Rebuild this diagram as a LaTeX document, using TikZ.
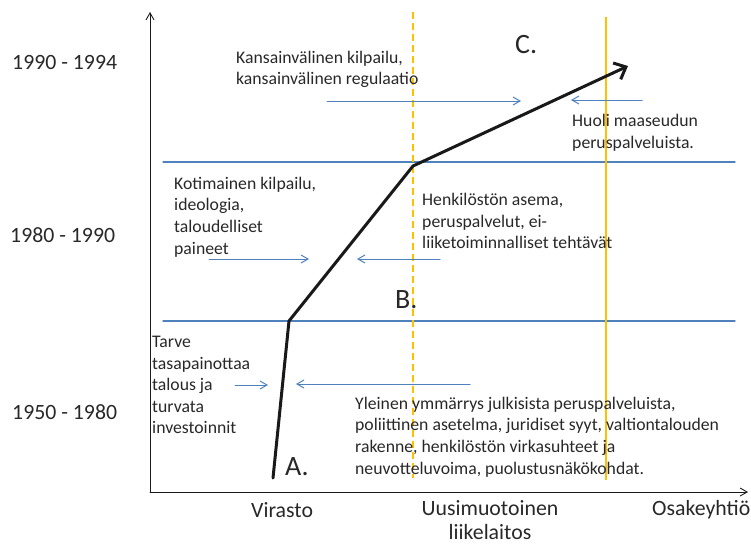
\documentclass[tikz,border=0pt]{standalone}
\usepackage{fontspec}
\setmainfont{Carlito}
\usetikzlibrary{arrows.meta}
\definecolor{sininen}{RGB}{79,129,189}
\definecolor{oranssi}{RGB}{255,192,0}
\definecolor{teksti}{RGB}{40,40,40}

\begin{document}
\begin{tikzpicture}[line cap=round,line join=round,>={Straight Barb[length=7pt,width=8pt]},x=1pt,y=-1pt,
	every node/.style={inner sep=0pt,text=teksti},
	selite/.style={anchor=west,align=left,font=\fontsize{17.7}{21.6}\selectfont},
	akseli/.style={anchor=west,font=\fontsize{21.8}{23.5}\selectfont},
	kirjain/.style={anchor=base west,font=\fontsize{28}{34}\selectfont},
	nuoli/.style={->,line width=1pt,color=sininen}]
				\useasboundingbox (0,0) rectangle (751,544);
				% akselit
				\coordinate (O) at (150,492);
				\coordinate (Ykarki) at (150,12);
				\coordinate (Xkarki) at (748,492);
				\draw [->,line width=0.9pt,color=black!90] (O) -- (Ykarki);
				\draw [->,line width=0.9pt,color=black!90] (O) -- (Xkarki);
				% vaakaviivat
				\coordinate (V1a) at (163,162);
				\coordinate (V1b) at (735,162);
				\coordinate (V2a) at (163,321);
				\coordinate (V2b) at (735,321);
				\draw [line width=1.3pt,color=sininen] (V1a) -- (V1b);
				\draw [line width=1.3pt,color=sininen] (V2a) -- (V2b);
				% pystyviivat
				\coordinate (P1a) at (413,12);
				\coordinate (P1b) at (413,478);
				\coordinate (P2a) at (606,17);
				\coordinate (P2b) at (606,480);
				\draw [line width=2pt,color=oranssi,line cap=butt,dash pattern=on 7pt off 4pt] (P1a) -- (P1b);
				\draw [line width=2pt,color=oranssi,line cap=butt] (P2a) -- (P2b);
				% kehityspolku
				\coordinate (A) at (273,478);
				\coordinate (AB) at (289,321);
				\coordinate (BC) at (413,166);
				\coordinate (C) at (628,66);
				\draw [line width=3pt,color=black!90,-{Straight Barb[length=10pt,width=18pt]}] (A) -- (AB) -- (BC) -- (C);
				% paineet
				\coordinate (n1a) at (327,101);
				\coordinate (n1b) at (521,101);
				\coordinate (n2a) at (642,100);
				\coordinate (n2b) at (571,100);
				\coordinate (n3a) at (209,259);
				\coordinate (n3b) at (309,259);
				\coordinate (n4a) at (440,259);
				\coordinate (n4b) at (357,259);
				\coordinate (n5a) at (235,385);
				\coordinate (n5b) at (268,385);
				\coordinate (n6a) at (470,384);
				\coordinate (n6b) at (296,384);
				\draw [nuoli] (n1a) -- (n1b);
				\draw [nuoli] (n2a) -- (n2b);
				\draw [nuoli] (n3a) -- (n3b);
				\draw [nuoli] (n4a) -- (n4b);
				\draw [nuoli] (n5a) -- (n5b);
				\draw [nuoli] (n6a) -- (n6b);
				% tekstit
				\node[selite] (kansainv) at (236,69.5) {Kansainvälinen kilpailu,\\kansainvälinen regulaatio};
				\node[selite] (huoli) at (572,133) {Huoli maaseudun\\peruspalveluista.};
				\node[selite] (kotim) at (174,217) {Kotimainen kilpailu,\\ideologia,\\taloudelliset\\paineet};
				\node[selite] (henk) at (422,221) {Henkilöstön asema,\\peruspalvelut, ei-\\liiketoiminnalliset tehtävät};
				\node[selite] (tarve) at (152,385) {Tarve\\tasapainottaa\\talous ja\\turvata\\investoinnit};
				\node[selite] (yleinen) at (355,437) {Yleinen ymmärrys julkisista peruspalveluista,\\poliittinen asetelma, juridiset syyt, valtiontalouden\\rakenne, henkilöstön virkasuhteet ja\\neuvotteluvoima, puolustusnäkökohdat.};
				\node[kirjain] (kA) at (285,475) {A.};
				\node[kirjain] (kB) at (395,308) {B.};
				\node[kirjain] (kC) at (515,53) {C.};
				\node[akseli] (v1) at (12,62) {1990 - 1994};
				\node[akseli] (v2) at (10,235) {1980 - 1990};
				\node[akseli] (v3) at (12,412) {1950 - 1980};
				\node[akseli] (virasto) at (251,510) {Virasto};
				\node[akseli,anchor=center,align=center] (liikel) at (490,520) {Uusimuotoinen\\liikelaitos};
				\node[akseli] (oy) at (652,510) {Osakeyhtiö};
			\end{tikzpicture}
\end{document}
